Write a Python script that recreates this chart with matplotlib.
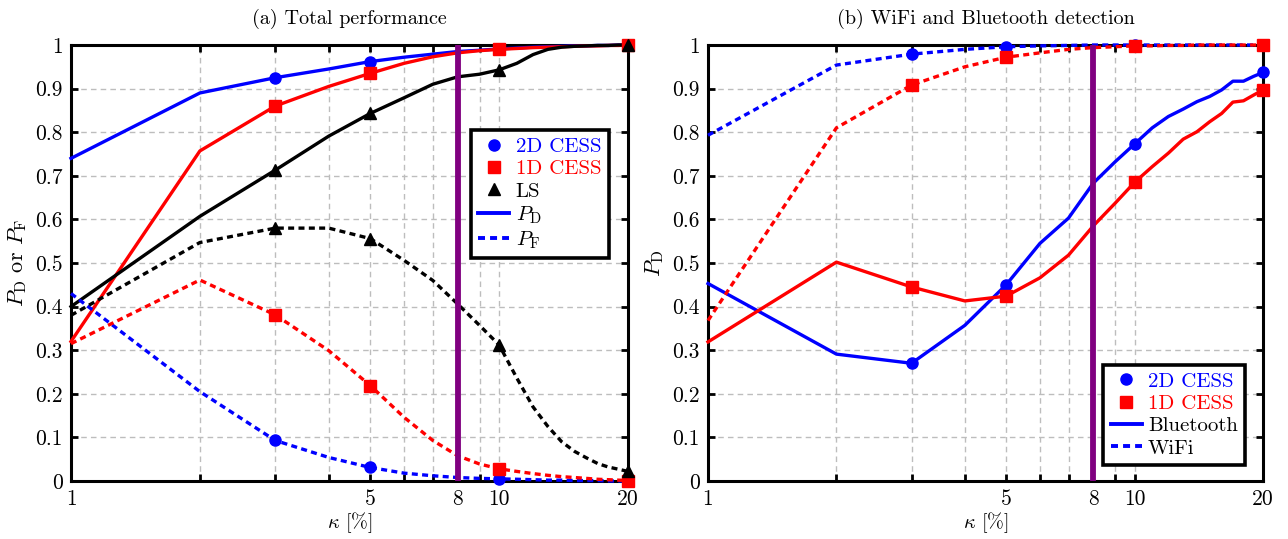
import matplotlib
matplotlib.use("Agg")
import matplotlib.pyplot as plt
from matplotlib.lines import Line2D
from matplotlib.ticker import FixedLocator, FuncFormatter, NullFormatter

plt.rcParams['font.family'] = ['cmr10', 'DejaVu Serif']
plt.rcParams['mathtext.fontset'] = 'cm'
plt.rcParams['axes.formatter.use_mathtext'] = True
plt.rcParams['axes.unicode_minus'] = False

# ---------------- data ----------------
kappa = [1, 2, 3, 4, 5, 6, 7, 8, 9, 10, 11, 12, 13, 14, 15, 16, 17, 18, 19, 20]

# (a) total performance
pd_2d = [0.74, 0.89, 0.925, 0.945, 0.962, 0.972, 0.979, 0.985, 0.988, 0.991,
         0.993, 0.995, 0.996, 0.997, 0.998, 0.998, 0.999, 0.999, 1.0, 1.0]
pd_1d = [0.32, 0.757, 0.86, 0.905, 0.935, 0.958, 0.973, 0.982, 0.987, 0.99,
         0.992, 0.994, 0.995, 0.996, 0.997, 0.998, 0.998, 0.999, 0.999, 1.0]
pd_ls = [0.40, 0.607, 0.713, 0.791, 0.843, 0.879, 0.91, 0.927, 0.933, 0.943,
         0.958, 0.978, 0.99, 0.995, 0.997, 0.998, 0.999, 0.999, 1.0, 1.0]
pf_2d = [0.43, 0.205, 0.093, 0.054, 0.031, 0.018, 0.012, 0.008, 0.006, 0.005,
         0.004, 0.003, 0.002, 0.002, 0.001, 0.001, 0.001, 0.0, 0.0, 0.0]
pf_1d = [0.315, 0.461, 0.381, 0.299, 0.219, 0.146, 0.093, 0.058, 0.039, 0.028,
         0.022, 0.017, 0.013, 0.010, 0.008, 0.006, 0.004, 0.003, 0.002, 0.001]
pf_ls = [0.38, 0.547, 0.58, 0.58, 0.556, 0.506, 0.46, 0.406, 0.357, 0.312,
         0.236, 0.17, 0.125, 0.09, 0.068, 0.053, 0.04, 0.032, 0.027, 0.022]

# (b) WiFi and Bluetooth detection
wifi_2d = [0.793, 0.954, 0.979, 0.99, 0.996, 0.998, 0.999, 1.0, 1.0, 1.0,
           1.0, 1.0, 1.0, 1.0, 1.0, 1.0, 1.0, 1.0, 1.0, 1.0]
wifi_1d = [0.368, 0.81, 0.908, 0.95, 0.972, 0.982, 0.99, 0.994, 0.996, 0.998,
           0.998, 0.999, 0.999, 1.0, 1.0, 1.0, 1.0, 1.0, 1.0, 1.0]
bt_2d = [0.453, 0.291, 0.27, 0.357, 0.45, 0.545, 0.603, 0.683, 0.732, 0.773,
         0.81, 0.836, 0.853, 0.87, 0.882, 0.897, 0.917, 0.917, 0.928, 0.937]
bt_1d = [0.319, 0.502, 0.445, 0.413, 0.424, 0.466, 0.518, 0.585, 0.637, 0.685,
         0.721, 0.752, 0.784, 0.801, 0.824, 0.843, 0.869, 0.872, 0.885, 0.897]

marked_kappa = [3, 5, 10, 20]
threshold = 8
xtick_major = [1, 5, 8, 10, 20]
xtick_minor = [2, 3, 4, 6, 7, 9]
yticks = [0, 0.1, 0.2, 0.3, 0.4, 0.5, 0.6, 0.7, 0.8, 0.9, 1.0]

titles = ["(a) Total performance", "(b) WiFi and Bluetooth detection"]
ylabels = [r"$P_{\mathrm{D}}$ or $P_{\mathrm{F}}$", r"$P_{\mathrm{D}}$"]
xlabel = r"$\kappa$ [%]"

BLUE = '#0000ff'
RED = '#ff0000'
BLACK = '#000000'
PURPLE = '#800080'
LW = 2.4
DOT = (0, (1.8, 1.3))
MS = 8
mark_idx = [kappa.index(k) for k in marked_kappa]

fig = plt.figure(figsize=(12.88, 5.39), dpi=100)
axL = fig.add_axes([71 / 1288, 58 / 539, 557 / 1288, 436 / 539])
axR = fig.add_axes([708 / 1288, 58 / 539, 555 / 1288, 436 / 539])


def style(ax, title, ylabel):
    ax.set_xscale('log')
    ax.set_xlim(1, 20)
    ax.set_ylim(0, 1)
    ax.xaxis.set_major_locator(FixedLocator(xtick_major))
    ax.xaxis.set_major_formatter(FuncFormatter(lambda v, p: '%g' % v))
    ax.xaxis.set_minor_locator(FixedLocator(xtick_minor))
    ax.xaxis.set_minor_formatter(NullFormatter())
    ax.yaxis.set_major_locator(FixedLocator(yticks))
    ax.yaxis.set_major_formatter(FuncFormatter(lambda v, p: '%g' % round(v, 2)))
    ax.tick_params(which='both', direction='in', top=True, right=True,
                   length=5, width=2.0, labelsize=15.5, pad=6)
    ax.grid(True, which='both', color='#bdbdbd', linestyle=(0, (4, 3)), linewidth=1.0)
    for s in ax.spines.values():
        s.set_linewidth(2.2)
    ax.set_title(title, fontsize=14.5, pad=15)
    ax.set_ylabel(ylabel, fontsize=16, labelpad=4)
    ax.set_xlabel(xlabel, fontsize=14.5, labelpad=1)
    ax.axvline(threshold, color=PURPLE, linewidth=4.2, zorder=4)


style(axL, titles[0], ylabels[0])
style(axR, titles[1], ylabels[1])

# ---- panel (a)
for y, c, m, ls in [(pd_2d, BLUE, 'o', '-'), (pd_1d, RED, 's', '-'), (pd_ls, BLACK, '^', '-'),
                    (pf_2d, BLUE, 'o', DOT), (pf_1d, RED, 's', DOT), (pf_ls, BLACK, '^', DOT)]:
    axL.plot(kappa, y, color=c, linestyle=ls, linewidth=LW, zorder=3, clip_on=False)
    axL.plot([kappa[i] for i in mark_idx], [y[i] for i in mark_idx], linestyle='none',
             marker=m, color=c, markersize=MS, zorder=5, clip_on=False)

leg_kw = dict(borderaxespad=0, fontsize=15, fancybox=False, framealpha=1,
              edgecolor='black', handlelength=1.5, labelspacing=0.18,
              handletextpad=0.3, borderpad=0.35)

hL = [Line2D([], [], color=BLUE, marker='o', linestyle='none', markersize=MS),
      Line2D([], [], color=RED, marker='s', linestyle='none', markersize=MS),
      Line2D([], [], color=BLACK, marker='^', linestyle='none', markersize=MS),
      Line2D([], [], color=BLUE, linestyle='-', linewidth=LW + 0.4),
      Line2D([], [], color=BLUE, linestyle=DOT, linewidth=LW + 0.4)]
labL = ['2D CESS', '1D CESS', 'LS', r'$P_{\mathrm{D}}$', r'$P_{\mathrm{F}}$']
legL = axL.legend(hL, labL, loc='upper right', bbox_to_anchor=(0.965, 0.805),
                  labelcolor=[BLUE, RED, BLACK, BLACK, BLACK], **leg_kw)
legL.get_frame().set_linewidth(2.6)
legL.set_zorder(10)

# ---- panel (b)
for y, c, m, ls in [(bt_2d, BLUE, 'o', '-'), (bt_1d, RED, 's', '-'),
                    (wifi_2d, BLUE, 'o', DOT), (wifi_1d, RED, 's', DOT)]:
    axR.plot(kappa, y, color=c, linestyle=ls, linewidth=LW, zorder=3, clip_on=False)
    axR.plot([kappa[i] for i in mark_idx], [y[i] for i in mark_idx], linestyle='none',
             marker=m, color=c, markersize=MS, zorder=5, clip_on=False)

hR = [Line2D([], [], color=BLUE, marker='o', linestyle='none', markersize=MS),
      Line2D([], [], color=RED, marker='s', linestyle='none', markersize=MS),
      Line2D([], [], color=BLUE, linestyle='-', linewidth=LW + 0.4),
      Line2D([], [], color=BLUE, linestyle=DOT, linewidth=LW + 0.4)]
labR = ['2D CESS', '1D CESS', 'Bluetooth', 'WiFi']
legR = axR.legend(hR, labR, loc='lower right', bbox_to_anchor=(0.968, 0.037),
                  labelcolor=[BLUE, RED, BLACK, BLACK], **leg_kw)
legR.get_frame().set_linewidth(2.6)
legR.set_zorder(10)

fig.savefig('out.png', dpi=100)
